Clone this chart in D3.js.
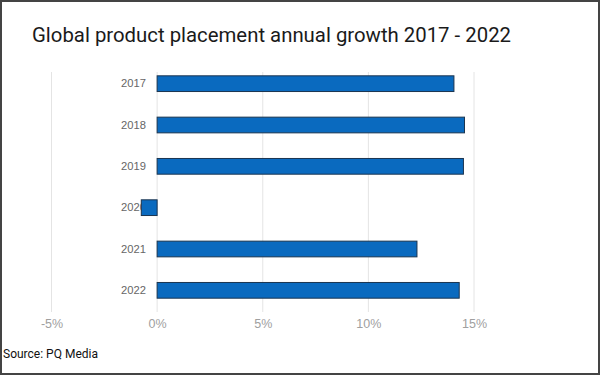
<!DOCTYPE html>
<html><head><meta charset="utf-8">
<script src="https://cdn.jsdelivr.net/npm/d3@7"></script>
<style>
html,body{margin:0;padding:0;background:#fff;}
svg{display:block;}
</style></head>
<body>
<svg id="chart" width="600" height="375"></svg>
<script>
const years = ["2017","2018","2019","2020","2021","2022"];
const growth = [14.05, 14.55, 14.5, -0.75, 12.3, 14.3];
const tickValues = [-5, 0, 5, 10, 15];
const titleText = "Global product placement annual growth 2017 - 2022";
const sourceText = "Source: PQ Media";

const svg = d3.select("#chart");
const W = 600, H = 375;

svg.append("rect").attr("x",1).attr("y",1).attr("width",W-2).attr("height",H-2)
  .attr("fill","#fff").attr("stroke","#444").attr("stroke-width",2);

svg.append("text").attr("x",32).attr("y",42)
  .attr("font-family","Roboto, sans-serif").attr("font-size",20.5).attr("fill","#1a1a1a")
  .attr("textLength",479).attr("lengthAdjust","spacingAndGlyphs")
  .text(titleText);

const x = d3.scaleLinear().domain([-5,15]).range([51.5,474]);
const y = d3.scaleBand().domain(years).range([63,311]).paddingInner(0.62).paddingOuter(0.31);

// gridlines
svg.append("g").selectAll("line").data(tickValues).join("line")
  .attr("x1",d=>x(d)).attr("x2",d=>x(d)).attr("y1",72).attr("y2",312)
  .attr("stroke","#e4e4e4").attr("stroke-width",1);

// x axis labels
const xAxis = d3.axisBottom(x).tickValues(tickValues).tickSize(0).tickFormat(d=>d+"%");
const gx = svg.append("g").attr("transform","translate(0,316)").call(xAxis);
gx.select(".domain").remove();
gx.selectAll("text").attr("font-family","Arial, Helvetica, sans-serif").attr("font-size",12.5).attr("fill","#a0a0a0");

// y axis labels
const yAxis = d3.axisLeft(y).tickSize(0).tickPadding(0);
const gy = svg.append("g").attr("transform","translate(146,0)").call(yAxis);
gy.select(".domain").remove();
gy.selectAll("text").attr("font-family","Arial, Helvetica, sans-serif").attr("font-size",11.2).attr("fill","#666");

// bars
svg.append("g").selectAll("rect").data(years).join("rect")
  .attr("x",(d,i)=>x(Math.min(0,growth[i])))
  .attr("width",(d,i)=>Math.abs(x(growth[i])-x(0)))
  .attr("y",d=>y(d))
  .attr("height",y.bandwidth())
  .attr("fill","#0a6abf").attr("stroke","#1b3550").attr("stroke-width",1);

svg.append("text").attr("x",3).attr("y",358)
  .attr("font-family","Roboto, sans-serif").attr("font-size",13).attr("fill","#111")
  .attr("textLength",95).attr("lengthAdjust","spacingAndGlyphs")
  .text(sourceText);
</script>
</body></html>
